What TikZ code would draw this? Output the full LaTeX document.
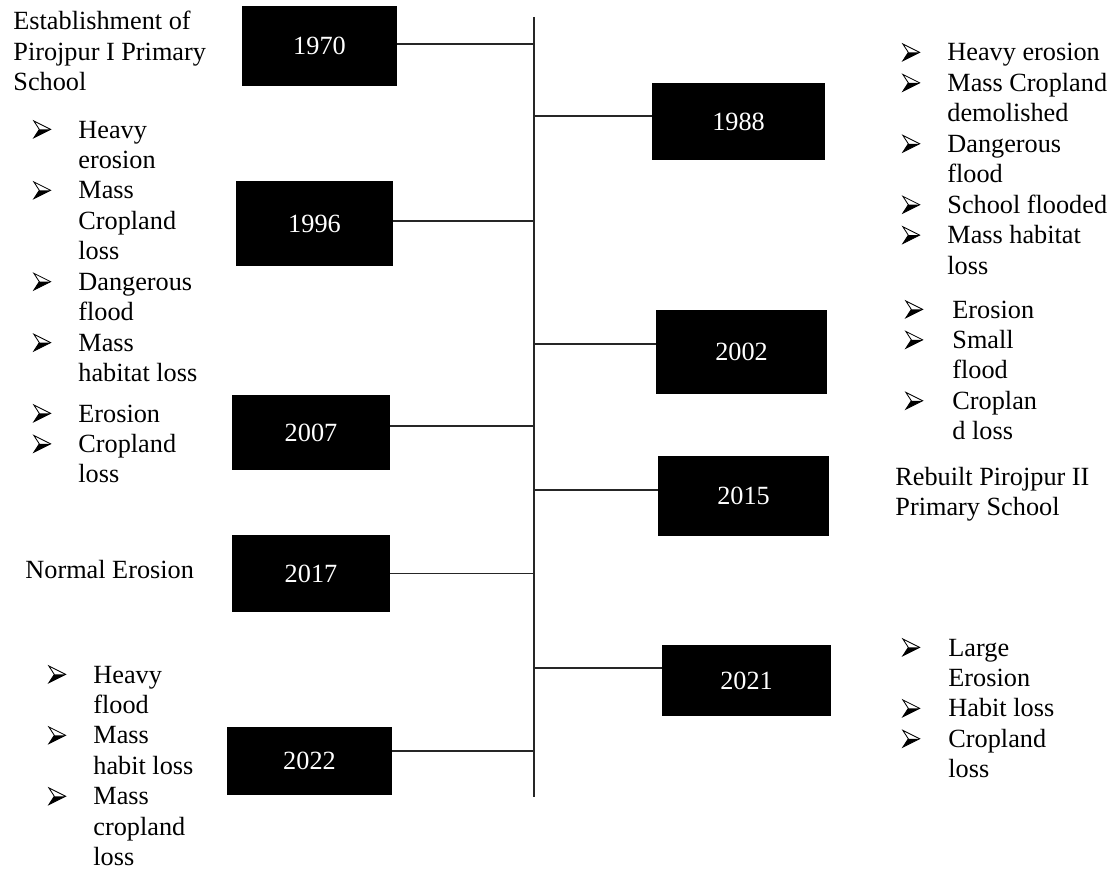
\documentclass[tikz,border=0pt]{standalone}
\usepackage{fontspec}
\setmainfont{Liberation Serif}

% one pixel of the reference
\newlength{\pxu}\setlength{\pxu}{0.476pt}
% arrowhead bullet
\newcommand{\bl}{\tikz[baseline=-4.1pt, x=1pt, y=1pt]{%
    \draw[line width=0.4pt, line join=miter] (0,4) -- (8,0) -- (0,-4) -- (2.6,0) -- cycle;
    \fill (8,0) -- (0,-4) -- (2.6,0) -- cycle;}}

\begin{document}
\begin{tikzpicture}[
                x=0.476pt, y=-0.476pt,
                font=\fontsize{12.5}{14.5}\selectfont,
                % Estilos
                year box/.style={
                    fill=black,
                    text=white,
                    inner sep=0pt
                },
                link/.style={
                    draw=black!85,
                    line width=0.9pt
                },
                note/.style={
                    anchor=base west,
                    inner sep=0pt
                }
            ]

                \useasboundingbox (0,0) rectangle (1115,870);

                % --- EJE CENTRAL ---
                \def\xAxis{534}
                \coordinate (axtop) at (\xAxis, 17);
                \coordinate (axbot) at (\xAxis, 797);
                \draw[link] (axtop) -- (axbot);

                % --- AÑOS ---
                \foreach \yr/\cx/\cy/\w/\h in {1970/319.5/46/155/80, 1988/738.5/121.5/173/77,
                    1996/314.5/223.5/157/85, 2002/741.5/352/171/84, 2007/311/432.5/158/75,
                    2015/743.5/496/171/80, 2017/311/573.5/158/77, 2021/746.5/680.5/169/71,
                    2022/309.5/761/165/68} {
                    \node[year box, minimum width=\w\pxu, minimum height=\h\pxu] (b\yr) at (\cx, \cy) {\yr};
                }

                % --- CONEXIONES AL EJE ---
                \foreach \yr/\side/\dy in {1970/east/2, 1988/west/5.5, 1996/east/2.5, 2002/west/8,
                    2007/east/6.5, 2015/west/6, 2017/east/0, 2021/west/12.5, 2022/east/10} {
                    \coordinate (c\yr) at ([yshift=\dy\pxu]b\yr.\side);
                    \draw[link] (c\yr) -- (axtop |- c\yr);
                }

                % --- TEXTOS A LA IZQUIERDA ---
                \node[note] (t1970) at (13, 30) {\begin{tabular}[t]{@{}l@{}}
                    Establishment of\\Pirojpur I Primary\\School
                \end{tabular}};

                \node[note] (t1996) at (33, 138) {\begin{tabular}[t]{@{}p{45\pxu}@{}l@{}}
                    \bl & Heavy\\ & erosion\\
                    \bl & Mass\\ & Cropland\\ & loss\\
                    \bl & Dangerous\\ & flood\\
                    \bl & Mass\\ & habitat loss
                \end{tabular}};

                \node[note] (t2007) at (33, 422) {\begin{tabular}[t]{@{}p{45\pxu}@{}l@{}}
                    \bl & Erosion\\
                    \bl & Cropland\\ & loss
                \end{tabular}};

                \node[note] (t2017) at (25, 578) {Normal Erosion};

                \node[note] (t2022) at (48, 683) {\begin{tabular}[t]{@{}p{45\pxu}@{}l@{}}
                    \bl & Heavy\\ & flood\\
                    \bl & Mass\\ & habit loss\\
                    \bl & Mass\\ & cropland\\ & loss
                \end{tabular}};

                % --- TEXTOS A LA DERECHA ---
                \node[note] (t1988) at (902, 61) {\begin{tabular}[t]{@{}p{45\pxu}@{}l@{}}
                    \bl & Heavy erosion\\
                    \bl & Mass Cropland\\ & demolished\\
                    \bl & Dangerous\\ & flood\\
                    \bl & School flooded\\
                    \bl & Mass habitat\\ & loss
                \end{tabular}};

                \node[note] (t2002) at (905, 318) {\begin{tabular}[t]{@{}p{47\pxu}@{}l@{}}
                    \bl & Erosion\\
                    \bl & Small\\ & flood\\
                    \bl & Croplan\\ & d loss
                \end{tabular}};

                \node[note] (t2015) at (895, 485) {\begin{tabular}[t]{@{}l@{}}
                    Rebuilt Pirojpur II\\Primary School
                \end{tabular}};

                \node[note] (t2021) at (902, 656) {\begin{tabular}[t]{@{}p{46\pxu}@{}l@{}}
                    \bl & Large\\ & Erosion\\
                    \bl & Habit loss\\
                    \bl & Cropland\\ & loss
                \end{tabular}};

            \end{tikzpicture}
\end{document}
